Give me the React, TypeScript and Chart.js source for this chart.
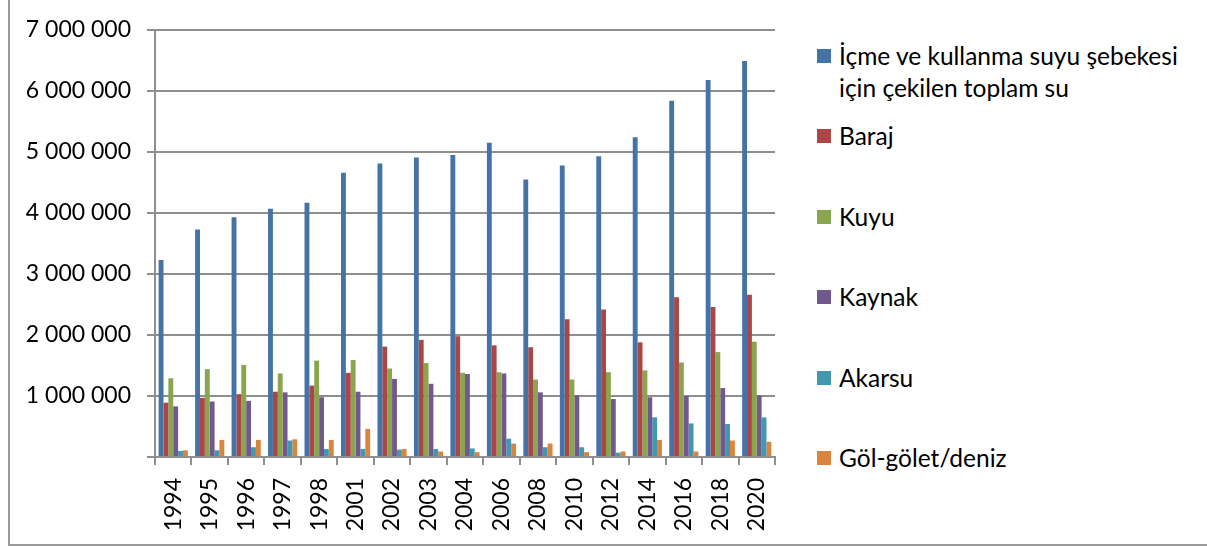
import React, { useEffect, useRef } from "react";
import { Chart, registerables } from "chart.js";

Chart.register(...registerables);

const categories = ["1994", "1995", "1996", "1997", "1998", "2001", "2002", "2003", "2004", "2006", "2008", "2010", "2012", "2014", "2016", "2018", "2020"];

const icmeSuyu = [3230000, 3730000, 3930000, 4070000, 4170000, 4660000, 4810000, 4910000, 4950000, 5150000, 4550000, 4780000, 4930000, 5240000, 5840000, 6180000, 6490000];
const baraj = [890000, 970000, 1030000, 1070000, 1170000, 1380000, 1810000, 1920000, 1980000, 1830000, 1800000, 2260000, 2420000, 1880000, 2620000, 2460000, 2660000];
const kuyu = [1290000, 1440000, 1510000, 1370000, 1580000, 1590000, 1450000, 1540000, 1380000, 1390000, 1270000, 1270000, 1390000, 1420000, 1550000, 1720000, 1890000];
const kaynak = [830000, 910000, 920000, 1060000, 980000, 1070000, 1280000, 1200000, 1360000, 1370000, 1060000, 1010000, 950000, 980000, 1000000, 1130000, 1010000];
const akarsu = [100000, 110000, 160000, 270000, 130000, 130000, 120000, 130000, 140000, 300000, 160000, 160000, 70000, 650000, 550000, 540000, 650000];
const golGolet = [110000, 280000, 280000, 290000, 280000, 460000, 130000, 90000, 80000, 220000, 220000, 80000, 90000, 280000, 90000, 270000, 250000];

const seriesLabels: string[][] = [
  ["İçme ve kullanma suyu şebekesi", "için çekilen toplam su"],
  ["Baraj"],
  ["Kuyu"],
  ["Kaynak"],
  ["Akarsu"],
  ["Göl-gölet/deniz"],
];
const seriesValues = [icmeSuyu, baraj, kuyu, kaynak, akarsu, golGolet];
const seriesColors = ["#4572A7", "#AA4643", "#89A54E", "#71588F", "#4198AF", "#DB843D"];

const yTickValues = [0, 1000000, 2000000, 3000000, 4000000, 5000000, 6000000, 7000000];

const FONT = "Lato, 'Open Sans', sans-serif";
const GRID = "#8e8e8e";

function fmt(v: number): string {
  if (v === 0) return "";
  return String(v).replace(/\B(?=(\d{3})+(?!\d))/g, " ");
}

export default function App() {
  const ref = useRef<HTMLCanvasElement | null>(null);

  useEffect(() => {
    if (!ref.current) return;
    const chart = new Chart(ref.current, {
      type: "bar",
      data: {
        labels: categories,
        datasets: seriesValues.map((vals, i) => ({
          label: seriesLabels[i].join(" "),
          data: vals,
          backgroundColor: seriesColors[i],
          borderWidth: 0,
          categoryPercentage: 0.8,
          barPercentage: 1.0,
        })),
      },
      options: {
        responsive: false,
        devicePixelRatio: 1,
        animation: false,
        layout: { padding: { left: 0, top: 30, right: 25, bottom: 0 } },
        plugins: {
          legend: { display: false },
          tooltip: { enabled: false },
          title: { display: false },
        },
        scales: {
          x: {
            grid: {
              display: true,
              drawOnChartArea: false,
              drawTicks: true,
              tickLength: 8,
              color: GRID,
              lineWidth: 2,
              offset: true,
            },
            border: { display: true, color: GRID, width: 2 },
            ticks: {
              minRotation: 90,
              maxRotation: 90,
              padding: 13,
              color: "#000",
              font: { family: FONT, size: 23 },
              autoSkip: false,
            },
            afterFit: (scale: any) => {
              scale.height = 89;
            },
          },
          y: {
            min: 0,
            max: 7000000,
            afterBuildTicks: (scale: any) => {
              scale.ticks = yTickValues.map((v) => ({ value: v }));
            },
            grid: {
              color: GRID,
              lineWidth: 2,
              drawTicks: true,
              tickLength: 8,
            },
            border: { display: true, color: GRID, width: 2 },
            ticks: {
              padding: 16,
              color: "#000",
              font: { family: FONT, size: 23 },
              callback: (v: any) => fmt(Number(v)),
            },
            afterFit: (scale: any) => {
              scale.width = 155;
            },
          },
        },
      },
    });
    return () => chart.destroy();
  }, []);

  const firstCenter = 55.5;
  const spacing = 80.5;
  const lineH = 32;

  return (
    <div style={{ position: "absolute", left: 0, top: 0, width: 1207, height: 546, overflow: "hidden", background: "#fff" }}>
      <div
        style={{
          position: "absolute",
          left: 8,
          top: -4,
          width: 1300,
          height: 550,
          boxSizing: "border-box",
          border: "2px solid #9a9a9a",
        }}
      />
      <canvas ref={ref} width={800} height={546} style={{ position: "absolute", left: 0, top: 0, width: 800, height: 546 }} />
      {seriesLabels.map((lines, i) => {
        const c = firstCenter + i * spacing;
        return (
          <div key={i} style={{ position: "absolute", left: 817, top: c - lineH / 2, fontFamily: FONT, fontSize: 24.5, lineHeight: lineH + "px", color: "#000", whiteSpace: "nowrap" }}>
            <div style={{ position: "absolute", left: 0, top: lineH / 2 - 7, width: 14, height: 14, background: seriesColors[i] }} />
            <div style={{ position: "absolute", left: 22, top: 0 }}>
              {lines.map((l, j) => (
                <div key={j}>{l}</div>
              ))}
            </div>
          </div>
        );
      })}
    </div>
  );
}
